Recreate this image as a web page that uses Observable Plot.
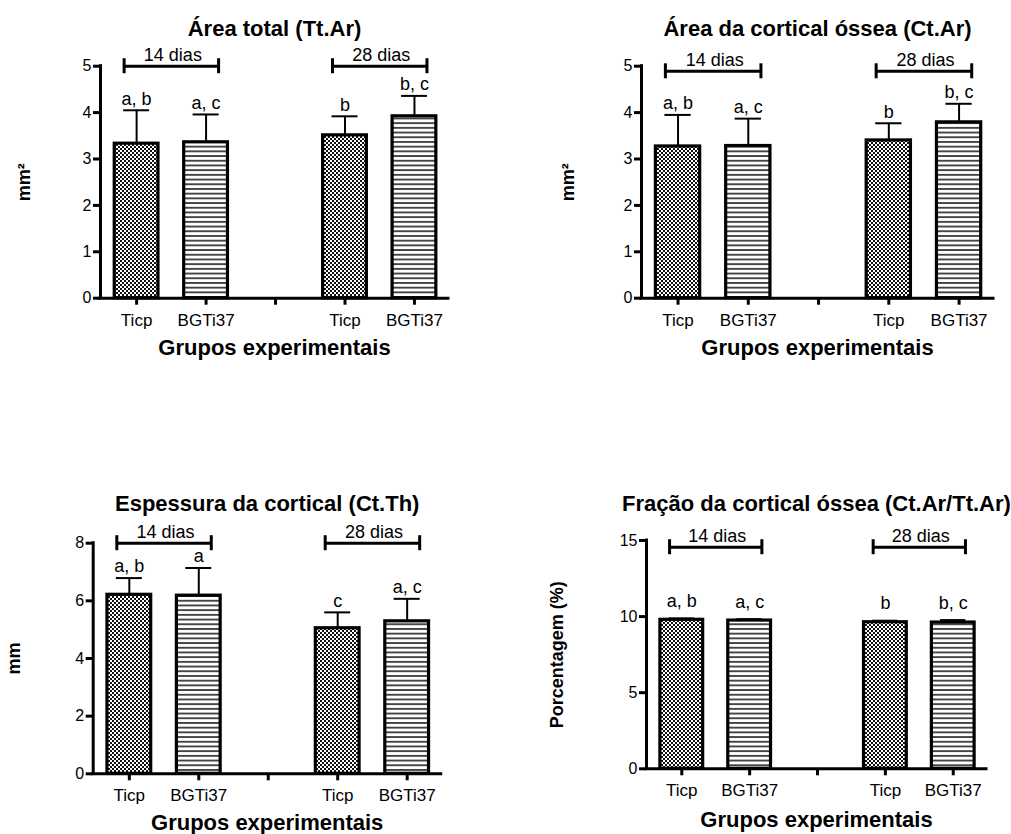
<!DOCTYPE html>
<html><head><meta charset="utf-8">
<script src="https://cdn.jsdelivr.net/npm/d3@7"></script>
<script src="https://cdn.jsdelivr.net/npm/@observablehq/plot@0.6"></script>
<style>
html,body{margin:0;padding:0;background:#fff;}
#root{position:relative;width:1011px;height:834px;overflow:hidden;background:#fff;}
#root svg{position:absolute;overflow:visible;}
</style></head><body><div id="root"></div>
<script>
// ---- categories / labels ----
const categories = ["Ticp|14", "BGTi37|14", "gap", "Ticp|28", "BGTi37|28"];
const tickLabels = ["Ticp", "BGTi37", "", "Ticp", "BGTi37"];
const barCategories = ["Ticp|14", "BGTi37|14", "Ticp|28", "BGTi37|28"];
const barGroups = ["Ticp", "BGTi37", "Ticp", "BGTi37"];
const periods = ["14 dias", "28 dias"];
const periodStart = ["Ticp|14", "Ticp|28"];
const periodEnd = ["BGTi37|14", "BGTi37|28"];

const titles = ["Área total (Tt.Ar)", "Área da cortical óssea (Ct.Ar)", "Espessura da cortical (Ct.Th)", "Fração da cortical óssea (Ct.Ar/Tt.Ar)"];
const yLabels = ["mm²", "mm²", "mm", "Porcentagem (%)"];
const xLabel = "Grupos experimentais";
const yTicks = [[0, 1, 2, 3, 4, 5], [0, 1, 2, 3, 4, 5], [0, 2, 4, 6, 8], [0, 5, 10, 15]];

// ---- values (mean, SD) ----
const meanTtAr = [3.33, 3.36, 3.51, 3.92];
const sdTtAr = [0.72, 0.60, 0.41, 0.44];
const lettersTtAr = ["a, b", "a, c", "b", "b, c"];

const meanCtAr = [3.27, 3.28, 3.40, 3.79];
const sdCtAr = [0.68, 0.59, 0.37, 0.40];
const lettersCtAr = ["a, b", "a, c", "b", "b, c"];

const meanCtTh = [6.21, 6.18, 5.05, 5.29];
const sdCtTh = [0.58, 0.96, 0.55, 0.78];
const lettersCtTh = ["a, b", "a", "c", "a, c"];

const meanFrac = [9.79, 9.74, 9.63, 9.61];
const sdFrac = [0.09, 0.09, 0.10, 0.16];
const lettersFrac = ["a, b", "a, c", "b", "b, c"];

const bracketLevels = [5, 4.89, 8, 14.56];

const series = [
  [meanTtAr, sdTtAr, lettersTtAr],
  [meanCtAr, sdCtAr, lettersCtAr],
  [meanCtTh, sdCtTh, lettersCtTh],
  [meanFrac, sdFrac, lettersFrac]
];

// ---- layout (pixels) ----
const layout = [
  {left: 0, top: 0, width: 480, height: 380, mL: 100, mR: 32, mT: 65.7, mB: 82.3, titleDy: -37.4, xlabDy: 49.6, ylabDx: -76.5, letDy: -11.5},
  {left: 505, top: 0, width: 506, height: 380, mL: 136, mR: 18, mT: 65.7, mB: 82.3, titleDy: -37.4, xlabDy: 50, ylabDx: -73.7, letDy: -11.5},
  {left: 0, top: 440, width: 480, height: 394, mL: 92.7, mR: 39.3, mT: 102.7, mB: 60.7, titleDy: -39.4, xlabDy: 49.5, ylabDx: -78.7, letDy: -11.5},
  {left: 505, top: 440, width: 506, height: 394, mL: 141, mR: 25, mT: 100, mB: 65.7, titleDy: -36.7, xlabDy: 50.7, ylabDx: -88.8, letDy: -17}
];

const FONT = "Liberation Sans, Arial, Helvetica, sans-serif";
const xDomain = [0.48, 5.49];
const barW = 0.315, capW = 0.187, brW = 0.18;
const root = document.getElementById("root");

series.forEach(([means, sds, letters], k) => {
  const L = layout[k];
  const ticks = yTicks[k];
  const ymax = d3.max(ticks);
  const level = bracketLevels[k];
  const rows = barCategories.map((c, i) => ({
    cat: c, group: barGroups[i], pos: categories.indexOf(c) + 1,
    mean: means[i], top: means[i] + sds[i], letter: letters[i]
  }));
  const pRows = periods.map((p, i) => ({
    label: p, a: categories.indexOf(periodStart[i]) + 1, b: categories.indexOf(periodEnd[i]) + 1
  }));
  const ends = pRows.flatMap(d => [d.a - brW, d.b + brW]);

  const svg = Plot.plot({
    width: L.width, height: L.height,
    marginLeft: L.mL, marginRight: L.mR, marginTop: L.mT, marginBottom: L.mB,
    style: {fontFamily: FONT, color: "#000", background: "transparent", overflow: "visible"},
    x: {domain: xDomain},
    y: {domain: [0, ymax]},
    marks: [
      // error bars (upper)
      Plot.ruleX(rows, {x: "pos", y1: "mean", y2: "top", stroke: "#000", strokeWidth: 2}),
      Plot.ruleY(rows, {x1: d => d.pos - capW, x2: d => d.pos + capW, y: "top", stroke: "#000", strokeWidth: 2}),
      // bars
      Plot.rectY(rows.filter(d => d.group === "Ticp"), {x1: d => d.pos - barW, x2: d => d.pos + barW, y1: 0, y2: "mean", fill: `url(#chk${k})`, stroke: "#000", strokeWidth: 3.2}),
      Plot.rectY(rows.filter(d => d.group === "BGTi37"), {x1: d => d.pos - barW, x2: d => d.pos + barW, y1: 0, y2: "mean", fill: `url(#str${k})`, stroke: "#000", strokeWidth: 3.2}),
      // significance letters
      Plot.text(rows, {x: "pos", y: "top", text: "letter", dy: L.letDy, fontSize: 18, lineAnchor: "middle"}),
      // period brackets
      Plot.ruleY(pRows, {x1: d => d.a - brW, x2: d => d.b + brW, y: level, stroke: "#000", strokeWidth: 3}),
      Plot.ruleX(ends, {x: d => d, y1: level, y2: level, insetTop: -7.5, insetBottom: -7.5, stroke: "#000", strokeWidth: 3}),
      Plot.text(pRows, {x: d => (d.a + d.b) / 2, y: level, text: "label", dy: -10.8, dx: 1.5, fontSize: 18, lineAnchor: "middle"}),
      // axes
      Plot.ruleX([xDomain[0]], {y1: 0, y2: ymax, stroke: "#000", strokeWidth: 3, strokeLinecap: "square"}),
      Plot.ruleY([0], {stroke: "#000", strokeWidth: 3, strokeLinecap: "square"}),
      Plot.axisY({ticks, tickFormat: d => String(d), tickSize: 7, tickPadding: 2, strokeWidth: 3, fontSize: 16, label: null}),
      Plot.axisX({ticks: [1, 2, 3, 4, 5], tickFormat: d => tickLabels[d - 1], tickSize: 7, tickPadding: 8.6, strokeWidth: 3, fontSize: 17, label: null}),
      // titles
      Plot.text([titles[k]], {text: d => d, frameAnchor: "top", lineAnchor: "middle", textAnchor: "middle", dy: L.titleDy, fontSize: 22, fontWeight: "bold"}),
      Plot.text([xLabel], {text: d => d, frameAnchor: "bottom", lineAnchor: "middle", textAnchor: "middle", dy: L.xlabDy, fontSize: 22, fontWeight: "bold"}),
      Plot.text([yLabels[k]], {text: d => d, frameAnchor: "left", lineAnchor: "middle", textAnchor: "middle", dx: L.ylabDx, rotate: -90, fontSize: 18, fontWeight: "bold"})
    ]
  });
  d3.select(svg).insert("defs", ":first-child").html(
    `<pattern id="chk${k}" patternUnits="userSpaceOnUse" width="4" height="4">` +
    `<rect width="4" height="4" fill="#fff"/><rect width="2" height="2" fill="#111"/><rect x="2" y="2" width="2" height="2" fill="#111"/></pattern>` +
    `<pattern id="str${k}" patternUnits="userSpaceOnUse" width="10" height="4.7">` +
    `<rect width="10" height="4.7" fill="#fff"/><rect width="10" height="1.9" fill="#444"/></pattern>`
  );
  svg.style.left = L.left + "px";
  svg.style.top = L.top + "px";
  root.appendChild(svg);
});
</script>
</body></html>
